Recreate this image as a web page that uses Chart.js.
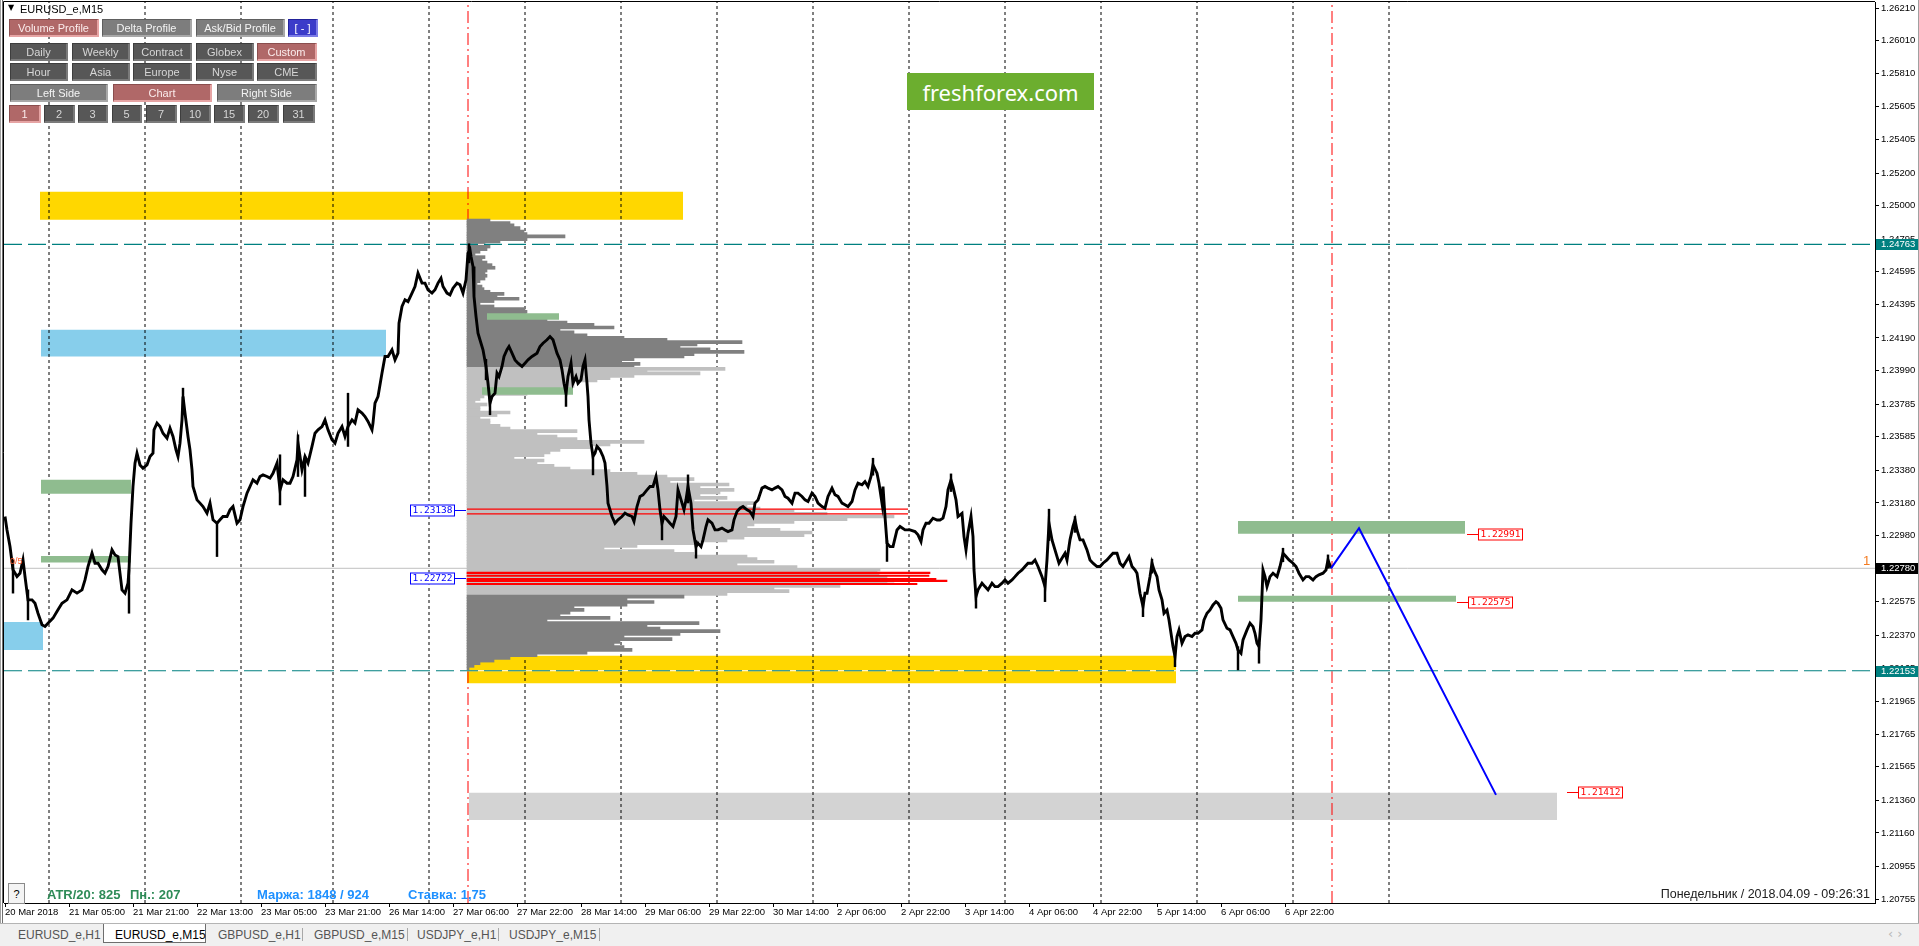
<!DOCTYPE html>
<html><head><meta charset="utf-8">
<script src="https://cdn.jsdelivr.net/npm/chart.js@4.4.1/dist/chart.umd.min.js"></script>
<style>
html,body{margin:0;padding:0;background:#fff;overflow:hidden;}
#wrap{position:relative;width:1919px;height:946px;background:#fff;}
#c{position:absolute;left:0;top:0;}
.ov{position:absolute;white-space:nowrap;font-family:"Liberation Sans",Arial,sans-serif;}
.btn{position:absolute;box-sizing:border-box;font:11px "Liberation Sans",Arial,sans-serif;display:flex;align-items:center;justify-content:center;}
.b-red{background:#b06868;color:#fbecec;border:1px solid #8a4e4e;border-right:2px solid #e6a4a4;border-bottom:2px solid #e6a4a4;}
.b-mid{background:#7d7d7d;color:#f4f4f4;border:1px solid #5e5e5e;border-right:2px solid #a8a8a8;border-bottom:2px solid #a8a8a8;}
.b-dark{background:#575757;color:#d6d6d6;border:1px solid #3e3e3e;border-right:2px solid #7a7a7a;border-bottom:2px solid #7a7a7a;}
.b-blue{background:#3b3bc9;color:#ffffff;border:1px solid #22229a;border-right:2px solid #7c7ce6;border-bottom:2px solid #7c7ce6;}
.tab{position:absolute;top:925px;height:19px;font:12px "Liberation Sans",Arial,sans-serif;color:#555;display:flex;align-items:center;}
</style></head>
<body><div id="wrap"><canvas id="c" width="1919" height="946"></canvas></div>
<script>
// ---------------- DATA ----------------
const timeLabels = ['20 Mar 2018','21 Mar 05:00','21 Mar 21:00','22 Mar 13:00','23 Mar 05:00','23 Mar 21:00','26 Mar 14:00','27 Mar 06:00','27 Mar 22:00','28 Mar 14:00','29 Mar 06:00','29 Mar 22:00','30 Mar 14:00','2 Apr 06:00','2 Apr 22:00','3 Apr 14:00','4 Apr 06:00','4 Apr 22:00','5 Apr 14:00','6 Apr 06:00','6 Apr 22:00'];
const timeLabelBars = [0,64,128,192,256,320,384,448,512,576,640,704,768,832,896,960,1024,1088,1152,1216,1280];
const daySeparatorBars = [44,140,236,328,424,520,616,712,808,904,1000,1096,1192,1288,1384];
const rangeMarkerBars = [463,1327];
const priceTicks = [1.26210,1.26010,1.25810,1.25605,1.25405,1.25200,1.25000,1.24795,1.24595,1.24395,1.24190,1.23990,1.23785,1.23585,1.23380,1.23180,1.22980,1.22775,1.22575,1.22370,1.22165,1.21965,1.21765,1.21565,1.21360,1.21160,1.20955,1.20755];

const priceBars = [0,2,5,8,12,15,18,20,23,27,30,33,37,40,43,48,53,57,62,67,72,77,80,83,87,90,93,97,100,103,107,110,113,117,120,123,124,126,128,130,132,135,138,142,145,148,149,152,155,158,162,165,168,171,173,175,177,178,180,183,185,187,188,192,195,198,202,205,208,212,215,218,222,225,228,232,235,238,242,245,248,252,255,258,262,265,268,272,275,278,282,285,288,292,293,297,300,303,307,310,313,317,320,323,327,330,333,337,340,343,347,350,353,357,360,363,367,368,370,373,377,380,383,387,390,393,394,397,400,403,407,410,413,417,420,423,427,430,433,436,438,442,445,448,452,455,458,461,463,465,
466,468,469,471,473,476,478,481,483,485,487,490,492,494,497,499,502,504,507,510,513,517,520,523,527,532,535,538,542,545,548,552,555,557,559,561,563,566,568,571,573,576,578,580,582,583,584,586,588,590,592,595,598,600,602,603,607,610,613,617,620,623,627,629,632,635,638,642,645,648,651,653,655,657,659,662,665,668,671,673,675,677,679,681,683,686,688,691,693,696,698,701,703,707,710,713,717,720,723,727,729,732,735,738,742,745,748,750,753,757,760,763,767,770,773,777,780,783,787,790,793,797,800,803,807,810,813,817,820,823,827,830,833,837,840,843,847,850,853,857,860,863,866,868,872,874,877,878,880,882,885,888,892,895,
900,905,910,913,916,918,921,924,928,932,935,938,941,943,946,948,951,953,957,959,961,963,966,968,969,971,973,977,980,983,987,990,993,997,1000,1003,1007,1010,1013,1017,1020,1023,1027,1030,1033,1037,1040,1042,1044,1047,1049,1052,1054,1058,1060,1062,1065,1068,1070,1072,1075,1078,1082,1085,1088,1092,1095,1098,1102,1105,1108,1112,1115,1118,1122,1124,1127,1130,1132,1135,1138,1140,1142,1145,1147,1149,1152,1154,1157,1159,1162,1164,1166,1168,1170,1172,1174,1177,1180,1183,1187,1190,1193,1197,1199,1202,1205,1208,1211,1213,1216,1218,1222,1225,1228,1231,1233,1236,1238,1242,1245,1248,1250,1252,1254,1256,1258,1260,1262,1265,1268,1272,1275,1278,1281,1284,1288,1291,1294,1298,1301,1304,1308,1311,1314,1318,1321,1323,1326];
const priceClose = [1.23097,1.23015,1.22913,1.22771,1.22730,1.22750,1.22832,1.22730,1.22587,1.22587,1.22566,1.22505,1.22434,1.22424,1.22444,1.22475,1.22526,1.22566,1.22587,1.22648,1.22628,1.22648,1.22709,1.22791,1.22873,1.22811,1.22811,1.22771,1.22750,1.22791,1.22893,1.22862,1.22852,1.22648,1.22628,1.22689,1.22771,1.23056,1.23281,1.23424,1.23485,1.23413,1.23393,1.23413,1.23464,1.23485,1.23628,1.23669,1.23648,1.23607,1.23577,1.23638,1.23587,1.23505,1.23464,1.23546,1.23689,1.23832,1.23730,1.23587,1.23505,1.23383,1.23281,1.23199,1.23179,1.23158,1.23117,1.23179,1.23077,1.23056,1.23077,1.23097,1.23097,1.23138,1.23158,1.23056,1.23077,1.23158,1.23240,1.23281,1.23322,1.23301,1.23342,1.23352,1.23342,1.23332,1.23362,1.23424,1.23260,1.23322,1.23301,1.23301,1.23342,1.23444,1.23546,1.23383,1.23464,1.23424,1.23526,1.23607,1.23628,1.23648,1.23689,1.23628,1.23567,1.23546,1.23607,1.23648,1.23587,1.23648,1.23689,1.23669,1.23750,1.23730,1.23709,1.23679,1.23628,1.23669,1.23791,1.23832,1.23975,1.24077,1.24077,1.24118,1.24056,1.24097,1.24281,1.24383,1.24424,1.24413,1.24465,1.24505,1.24587,1.24526,1.24526,1.24485,1.24465,1.24485,1.24526,1.24556,1.24505,1.24465,1.24454,1.24495,1.24526,1.24516,1.24465,1.24546,1.24709,1.24730,
1.24689,1.24628,1.24444,1.24322,1.24220,1.24158,1.24118,1.24016,1.23913,1.23791,1.23832,1.23852,1.23975,1.23954,1.24016,1.24077,1.24118,1.24138,1.24097,1.24056,1.24036,1.24016,1.24036,1.24056,1.24077,1.24097,1.24138,1.24158,1.24179,1.24199,1.24179,1.24097,1.24056,1.23995,1.23913,1.23852,1.23954,1.24036,1.23913,1.23954,1.23913,1.23934,1.24016,1.24056,1.23913,1.23832,1.23689,1.23546,1.23465,1.23485,1.23526,1.23505,1.23465,1.23424,1.23281,1.23179,1.23097,1.23056,1.23077,1.23097,1.23118,1.23107,1.23097,1.23067,1.23158,1.23220,1.23230,1.23260,1.23281,1.23281,1.23342,1.23260,1.23138,1.23056,1.23097,1.23077,1.23056,1.23036,1.23097,1.23260,1.23220,1.23179,1.23138,1.23199,1.23281,1.23179,1.23015,1.22913,1.22934,1.22913,1.22954,1.23036,1.23077,1.23056,1.23015,1.23015,1.23026,1.23015,1.23005,1.23015,1.23077,1.23128,1.23148,1.23158,1.23138,1.23128,1.23097,1.23179,1.23199,1.23271,1.23281,1.23271,1.23260,1.23271,1.23281,1.23260,1.23220,1.23209,1.23179,1.23240,1.23240,1.23220,1.23199,1.23189,1.23240,1.23220,1.23179,1.23158,1.23148,1.23220,1.23271,1.23230,1.23220,1.23179,1.23169,1.23158,1.23189,1.23260,1.23301,1.23291,1.23311,1.23281,1.23342,1.23413,1.23362,1.23301,1.23179,1.23281,1.23097,1.22934,1.22913,1.22913,1.23015,1.23036,
1.23015,1.23015,1.23005,1.22985,1.22944,1.23015,1.23056,1.23056,1.23087,1.23076,1.23076,1.23087,1.23158,1.23260,1.23321,1.23280,1.23199,1.23097,1.23117,1.22974,1.22893,1.22995,1.23097,1.22974,1.22770,1.22607,1.22648,1.22689,1.22668,1.22648,1.22689,1.22668,1.22668,1.22689,1.22709,1.22689,1.22709,1.22729,1.22750,1.22770,1.22791,1.22811,1.22811,1.22831,1.22791,1.22729,1.22668,1.22831,1.23056,1.22954,1.22913,1.22852,1.22811,1.22852,1.22872,1.22831,1.22954,1.23036,1.23076,1.23015,1.22954,1.22954,1.22893,1.22831,1.22811,1.22791,1.22791,1.22811,1.22831,1.22852,1.22872,1.22872,1.22811,1.22791,1.22831,1.22852,1.22791,1.22770,1.22750,1.22627,1.22546,1.22627,1.22627,1.22729,1.22811,1.22770,1.22729,1.22648,1.22587,1.22505,1.22525,1.22464,1.22382,1.22301,1.22240,1.22362,1.22403,1.22321,1.22362,1.22372,1.22362,1.22382,1.22382,1.22403,1.22464,1.22505,1.22525,1.22556,1.22576,1.22566,1.22535,1.22464,1.22413,1.22403,1.22362,1.22321,1.22280,1.22260,1.22342,1.22403,1.22444,1.22423,1.22382,1.22321,1.22301,1.22464,1.22770,1.22729,1.22668,1.22729,1.22750,1.22729,1.22791,1.22872,1.22852,1.22831,1.22811,1.22791,1.22750,1.22709,1.22729,1.22729,1.22709,1.22729,1.22740,1.22750,1.22770,1.22831,1.22780];

const wickBars = [8,23,124,178,212,275,293,300,343,464,481,485,561,588,657,683,691,868,882,946,971,1040,1044,1070,1138,1147,1170,1233,1254,1278,1323];
const wickLow  = [1.22628,1.22464,1.22505,1.23730,1.22852,1.23168,1.23342,1.23220,1.23526,1.24650,1.23934,1.23720,1.23771,1.23352,1.22954,1.23180,1.22842,1.23350,1.22822,1.23250,1.22536,1.22576,1.22950,1.23000,1.22484,1.22750,1.22178,1.22158,1.22199,1.22820,1.22780];
const wickHigh = [1.22832,1.22648,1.22771,1.23883,1.23056,1.23475,1.23597,1.23464,1.23852,1.24767,1.24060,1.23830,1.23900,1.23480,1.23080,1.23352,1.22950,1.23454,1.22950,1.23358,1.22650,1.22700,1.23142,1.23097,1.22600,1.22836,1.22300,1.22300,1.22320,1.22903,1.22862];

const profileBaseBar = 462;
const valueAreaHigh = 1.24010;
const valueAreaLow = 1.22615;
const profilePrices = [1.24909,1.24893,1.24879,1.24863,1.24842,1.24826,1.24812,1.24795,1.24781,1.24765,1.24750,1.24734,1.24718,1.24701,1.24685,1.24669,1.24652,1.24636,1.24620,1.24603,1.24587,1.24571,1.24554,1.24538,1.24522,1.24505,1.24489,1.24473,1.24460,1.24444,1.24430,1.24416,1.24399,1.24383,1.24367,1.24350,1.24334,1.24318,1.24301,1.24285,1.24271,1.24254,1.24240,1.24224,1.24207,1.24191,1.24179,1.24165,1.24150,1.24134,1.24120,1.24105,1.24091,1.24077,1.24060,1.24046,1.24032,1.24018,
1.24001,1.23987,1.23973,1.23958,1.23944,1.23930,1.23913,1.23897,1.23881,1.23864,1.23848,1.23832,1.23816,1.23799,1.23783,1.23767,1.23750,1.23734,1.23718,1.23701,1.23685,1.23669,1.23652,1.23636,1.23620,1.23603,1.23587,1.23571,1.23554,1.23538,1.23522,1.23505,1.23489,1.23473,1.23457,1.23440,1.23424,1.23407,1.23391,1.23375,1.23358,1.23342,1.23326,1.23309,1.23293,1.23277,1.23260,1.23244,1.23228,1.23211,1.23195,1.23179,1.23162,1.23146,1.23130,1.23113,1.23097,1.23081,1.23064,1.23048,1.23032,1.23015,1.22999,1.22983,1.22967,1.22950,1.22934,1.22917,1.22901,1.22885,1.22868,1.22852,1.22836,1.22820,1.22803,1.22787,1.22771,1.22754,1.22738,1.22722,1.22705,1.22689,1.22672,1.22656,1.22640,1.22623,
1.22607,1.22591,1.22574,1.22558,1.22542,1.22526,1.22509,1.22493,1.22477,1.22460,1.22444,1.22428,1.22411,1.22395,1.22379,1.22362,1.22346,1.22330,1.22313,1.22297,1.22281,1.22264,1.22248,1.22232,1.22215,1.22199,1.22183,1.22166];
const profileVolumes = [23,43,47,53,57,60,98,60,33,18,23,20,13,8,18,15,20,25,28,20,18,20,18,13,10,15,17,23,37,30,52,27,13,27,58,60,57,70,80,100,127,147,93,107,120,157,200,275,230,213,243,277,227,217,167,153,173,167,
258,180,233,167,143,130,107,107,93,70,60,17,13,8,20,13,13,43,30,13,23,23,33,43,110,70,90,110,177,143,123,93,83,77,47,77,70,87,103,143,170,200,227,203,262,233,267,253,233,260,227,287,280,293,327,360,427,380,327,287,280,313,345,337,277,260,227,170,137,207,227,280,290,307,270,330,413,410,412,420,427,420,373,307,322,260,
217,160,187,160,107,117,103,93,143,80,232,180,193,253,213,157,205,153,147,157,165,120,70,43,27,13,7,2];
const pocPrices  = [1.22752,1.22734,1.22715,1.22703,1.22684];
const pocVolumes = [463,462,469,480,450];
const nakedPocStart = 462, nakedPocEnd = 903;
const nakedPocHigh = 1.23142, nakedPocLow = 1.23113;

const zoneStart = [35,36,36,36,-1,462,464,482,477,1233,1233];
const zoneEnd   = [678,381,126,126,38,1171,1552,554,568,1460,1451];
const zoneHigh  = [1.25085,1.24240,1.23322,1.22856,1.22452,1.22245,1.21406,1.24342,1.23889,1.23070,1.22612];
const zoneLow   = [1.24914,1.24077,1.23236,1.22815,1.22280,1.22077,1.21239,1.24301,1.23842,1.22991,1.22575];
const zoneKind  = ['gold','sky','sage','sage','sky','gold','silver','sage','sage','sage','sage'];

const levelPrices = [1.24763,1.22153];
const bidPrice = 1.22780;
const projBars = [1326,1354,1491];
const projPrices = [1.22780,1.23025,1.21393];

const tagValues = [1.23138,1.22722,1.22991,1.22575,1.21412];
const tagBars   = [461,461,1462,1452,1562];
const tagSides  = ['left','left','right','right','right'];
const tagKinds  = ['blue','blue','red','red','red'];

const X_MIN = -1, X_MAX = 1870, Y_MIN = 1.20731, Y_MAX = 1.26247;

// ---------------- STYLES ----------------
const zoneColors = {gold:'#FFD700', sky:'#87CEEB', sage:'#8FBC8F', silver:'#D3D3D3'};
const tagColors = {blue:'#0000FF', red:'#FF0000'};
const TEAL = '#008080';

// ---------------- DATASETS ----------------
const datasets = [];
zoneStart.forEach((s, i) => {
  datasets.push({type:'line', data:[{x:s,y:zoneHigh[i]},{x:zoneEnd[i],y:zoneHigh[i]}],
    fill:{value:zoneLow[i]}, backgroundColor:zoneColors[zoneKind[i]], borderColor:'rgba(0,0,0,0)',
    borderWidth:0, pointRadius:0, order: zoneKind[i]==='sage' ? 75 : 100});
});
const sepData = [];
daySeparatorBars.forEach(b => { sepData.push({x:b,y:Y_MIN},{x:b,y:Y_MAX},{x:b,y:null}); });
datasets.push({type:'line', data:sepData, borderColor:'#000', borderWidth:1, borderDash:[3,3], pointRadius:0, spanGaps:false, order:95});
const mkData = [];
rangeMarkerBars.forEach(b => { mkData.push({x:b,y:Y_MIN},{x:b,y:Y_MAX},{x:b,y:null}); });
datasets.push({type:'line', data:mkData, borderColor:'#FF0000', borderWidth:1, borderDash:[12,4,2,4], pointRadius:0, spanGaps:false, order:94});

datasets.push({type:'bar', indexAxis:'y', grouped:false, barThickness:3,
  data: profilePrices.map((p,i)=>({y:p, x:[profileBaseBar, profileBaseBar+profileVolumes[i]]})),
  backgroundColor: ctx => { const p = profilePrices[ctx.dataIndex]; return (p <= valueAreaHigh && p >= valueAreaLow) ? '#C0C0C0' : '#808080'; },
  borderWidth:0, order:80});
datasets.push({type:'bar', indexAxis:'y', grouped:false, barThickness:1.4,
  data: pocPrices.map((p,i)=>({y:p, x:[profileBaseBar, profileBaseBar+pocVolumes[i]]})),
  backgroundColor:'#FF0000', borderWidth:0, order:70});
[nakedPocHigh, nakedPocLow].forEach(p => {
  datasets.push({type:'line', data:[{x:nakedPocStart,y:p},{x:nakedPocEnd,y:p}], borderColor:'#FF0000', borderWidth:1.3, pointRadius:0, order:70});
});
levelPrices.forEach(p => {
  datasets.push({type:'line', data:[{x:X_MIN,y:p},{x:X_MAX,y:p}], borderColor:'#FFFFFF', borderWidth:1, pointRadius:0, order:62});
  datasets.push({type:'line', data:[{x:X_MIN,y:p},{x:X_MAX,y:p}], borderColor:TEAL, borderWidth:1.2, borderDash:[18,6], pointRadius:0, order:61});
});
datasets.push({type:'line', data:[{x:X_MIN,y:bidPrice},{x:X_MAX,y:bidPrice}], borderColor:'#C0C0C0', borderWidth:1, pointRadius:0, order:60});
datasets.push({type:'bar', grouped:false, barThickness:1.8,
  data: wickBars.map((b,i)=>({x:b, y:[wickLow[i], wickHigh[i]]})), backgroundColor:'#000', borderWidth:0, order:51});
datasets.push({type:'line', data: priceBars.map((b,i)=>({x:b, y:priceClose[i]})), borderColor:'#000', borderWidth:2.9,
  pointRadius:0, tension:0, borderJoinStyle:'miter', order:50});
datasets.push({type:'line', data: projBars.map((b,i)=>({x:b, y:projPrices[i]})), borderColor:'#0000FF', borderWidth:2, pointRadius:0, order:40});

// ---------------- PLUGIN ----------------
const mtPlugin = {
  id:'mt',
  afterDatasetsDraw(chart){
    const {ctx, chartArea:a, scales:{x, y}} = chart;
    ctx.save();
    ctx.beginPath(); ctx.rect(a.left, a.top, a.right-a.left, a.bottom-a.top); ctx.clip();
    ctx.font = '9.5px "DejaVu Sans Mono", monospace';
    ctx.textBaseline = 'middle';
    tagValues.forEach((v,i) => {
      const py = Math.round(y.getPixelForValue(v)) + 0.5;
      const px = Math.round(x.getPixelForValue(tagBars[i]));
      const col = tagColors[tagKinds[i]];
      const text = v.toFixed(5);
      const w = Math.ceil(ctx.measureText(text).width) + 4;
      const left = tagSides[i] === 'left' ? px - 11 - w : px + 11;
      ctx.strokeStyle = col; ctx.lineWidth = 1;
      ctx.beginPath();
      if (tagSides[i] === 'left') { ctx.moveTo(px-11, py); ctx.lineTo(px, py); } else { ctx.moveTo(px, py); ctx.lineTo(px+11, py); }
      ctx.stroke();
      ctx.fillStyle = '#fff'; ctx.fillRect(left, py-6, w, 12);
      ctx.strokeRect(left+0.5, py-5.5, w-1, 11);
      ctx.fillStyle = col; ctx.textAlign = 'center'; ctx.fillText(text, left + w/2, py+0.5);
    });
    ctx.font = '13px "Liberation Sans", Arial, sans-serif';
    ctx.fillStyle = '#F47B20'; ctx.textAlign = 'left'; ctx.textBaseline = 'alphabetic';
    ctx.fillText('1', a.right - 12, y.getPixelForValue(bidPrice) - 3);
    ctx.font = '9px "Liberation Sans", Arial, sans-serif';
    ctx.fillStyle = '#FF5A28'; ctx.textBaseline = 'middle';
    ctx.fillText('0/5', x.getPixelForValue(5), y.getPixelForValue(zoneLow[3]) - 1);
    ctx.restore();
  },
  afterDraw(chart){
    const {ctx, chartArea:a, scales:{y}} = chart;
    ctx.save();
    ctx.strokeStyle = '#000'; ctx.lineWidth = 1;
    ctx.beginPath();
    ctx.moveTo(a.left - 0.5, a.bottom); ctx.lineTo(a.left - 0.5, a.top - 0.5); ctx.lineTo(a.right, a.top - 0.5);
    ctx.stroke();
    const boxes = [[levelPrices[0], TEAL], [levelPrices[1], TEAL], [bidPrice, '#000']];
    ctx.font = '9.5px "Liberation Sans", Arial, sans-serif';
    ctx.textBaseline = 'middle'; ctx.textAlign = 'left';
    boxes.forEach(([p, col]) => {
      const py = Math.round(y.getPixelForValue(p));
      ctx.fillStyle = col; ctx.fillRect(a.right + 1, py - 5, 1918 - a.right - 1, 11);
      ctx.fillStyle = '#fff'; ctx.fillText(p.toFixed(5), a.right + 6, py + 0.5);
    });
    ctx.restore();
  }
};

Chart.defaults.font.family = '"Liberation Sans", Arial, sans-serif';
new Chart(document.getElementById('c'), {
  type:'line',
  data:{datasets},
  plugins:[mtPlugin],
  options:{
    responsive:false, animation:false, events:[],
    layout:{padding:{left:4, top:2, right:0, bottom:0}},
    plugins:{legend:{display:false}, tooltip:{enabled:false}},
    scales:{
      x:{type:'linear', min:X_MIN, max:X_MAX, offset:false,
        grid:{drawOnChartArea:false, drawTicks:true, tickLength:4, color:'#000', tickColor:'#000', offset:false},
        border:{display:true, color:'#000', width:1},
        afterBuildTicks: s => { s.ticks = timeLabelBars.map(v => ({value:v})); },
        afterFit: s => { s.height = 43; s.paddingLeft = 0; s.paddingRight = 0; },
        ticks:{autoSkip:false, maxRotation:0, minRotation:0, align:'start', padding:0, color:'#000',
          font:{size:9.5}, callback:(v, i) => timeLabels[i]}},
      y:{type:'linear', position:'right', min:Y_MIN, max:Y_MAX, offset:false,
        grid:{drawOnChartArea:false, drawTicks:true, tickLength:4, color:'#000', tickColor:'#000', offset:false},
        border:{display:true, color:'#000', width:1},
        afterBuildTicks: s => { s.ticks = priceTicks.map(v => ({value:v})); },
        afterFit: s => { s.width = 44; s.paddingTop = 0; s.paddingBottom = 0; },
        ticks:{autoSkip:false, padding:2, color:'#000', font:{size:9.5}, callback: v => Number(v).toFixed(5)}}
    }
  }
});

// ---------------- HTML CHROME ----------------
const wrap = document.getElementById('wrap');
function el(cls, text, css){ const d = document.createElement('div'); d.className = cls; d.textContent = text; Object.assign(d.style, css); wrap.appendChild(d); return d; }
el('ov','',{left:'0px',top:'0px',width:'1px',height:'924px',background:'#a0a0a0'});
el('ov','',{left:'2px',top:'0px',width:'1px',height:'924px',background:'#707070'});
el('ov','',{left:'1918px',top:'0px',width:'1px',height:'924px',background:'#a0a0a0'});
el('ov','▼',{left:'8px',top:'3px',font:'8px "DejaVu Sans",sans-serif',color:'#000'});
el('ov','EURUSD_e,M15',{left:'20px',top:'3px',font:'11px "Liberation Sans",Arial,sans-serif',color:'#000'});
const buttonLabels = [
  ['Volume Profile','Delta Profile','Ask/Bid Profile','[ - ]'],
  ['Daily','Weekly','Contract','Globex','Custom'],
  ['Hour','Asia','Europe','Nyse','CME'],
  ['Left Side','Chart','Right Side'],
  ['1','2','3','5','7','10','15','20','31']
];
const buttonStates = [
  ['red','mid','mid','blue'],
  ['dark','dark','dark','dark','red'],
  ['dark','dark','dark','dark','dark'],
  ['mid','red','mid'],
  ['red','dark','dark','dark','dark','dark','dark','dark','dark']
];
const rowY = [19,43,63,84,105];
const rowX = [
  [[9,90],[102,90],[196,89],[288,30]],
  [[10,58],[72,58],[133,59],[196,58],[257,60]],
  [[10,58],[72,58],[133,59],[196,58],[257,60]],
  [[10,98],[113,99],[217,100]],
  [[9,32],[44,31],[78,30],[112,30],[146,31],[180,31],[214,31],[248,31],[283,32]]
];
buttonLabels.forEach((row, r) => row.forEach((t, i) => {
  el('btn b-' + buttonStates[r][i], t, {left:rowX[r][i][0]+'px', top:rowY[r]+'px', width:rowX[r][i][1]+'px', height:'18px'});
}));
el('ov','freshforex.com',{left:'907px',top:'73px',width:'187px',height:'37px',background:'#6CAE2F',color:'#fff',
  font:'22px "Noto Sans","Open Sans",sans-serif',display:'flex',alignItems:'center',justifyContent:'center'});
el('ov','?',{left:'8px',top:'883px',width:'17px',height:'21px',boxSizing:'border-box',border:'1px solid #8a8a8a',background:'#f4f4f4',
  font:'11px "Liberation Sans",Arial,sans-serif',color:'#000',display:'flex',alignItems:'center',justifyContent:'center'});
el('ov','ATR/20: 825',{left:'47px',top:'887px',font:'bold 13px "Liberation Sans",Arial,sans-serif',color:'#2E8B57'});
el('ov','Пн.: 207',{left:'130px',top:'887px',font:'bold 13px "Liberation Sans",Arial,sans-serif',color:'#2E8B57'});
el('ov','Маржа: 1848 / 924',{left:'257px',top:'887px',font:'bold 13px "Liberation Sans",Arial,sans-serif',color:'#1E90FF'});
el('ov','Ставка: 1,75',{left:'408px',top:'887px',font:'bold 13px "Liberation Sans",Arial,sans-serif',color:'#1E90FF'});
el('ov','Понедельник / 2018.04.09 - 09:26:31',{right:'49px',top:'887px',font:'12.5px "Liberation Sans",Arial,sans-serif',color:'#202020'});
el('ov','',{left:'0px',top:'923px',width:'1919px',height:'23px',background:'#f0f0f0',borderTop:'1px solid #b4b4b4'});
el('ov','',{left:'103px',top:'924px',width:'103px',height:'19px',background:'#fff',boxSizing:'border-box',borderLeft:'1px solid #6e6e6e',borderRight:'1px solid #6e6e6e',borderBottom:'1px solid #6e6e6e'});
const tabNames = ['EURUSD_e,H1','EURUSD_e,M15','GBPUSD_e,H1','GBPUSD_e,M15','USDJPY_e,H1','USDJPY_e,M15'];
const tabX = [18,115,218,314,417,509];
tabNames.forEach((t,i) => { const d = el('tab', t, {left:tabX[i]+'px'}); if (i===1) d.style.color = '#000'; });
[302,407,498,599].forEach(x => el('ov','',{left:x+'px',top:'928px',width:'1px',height:'13px',background:'#a8a8a8'}));
el('ov','‹  ›',{left:'1888px',top:'926px',font:'13px "DejaVu Sans",sans-serif',color:'#b8b8b8'});
</script>
</body></html>
